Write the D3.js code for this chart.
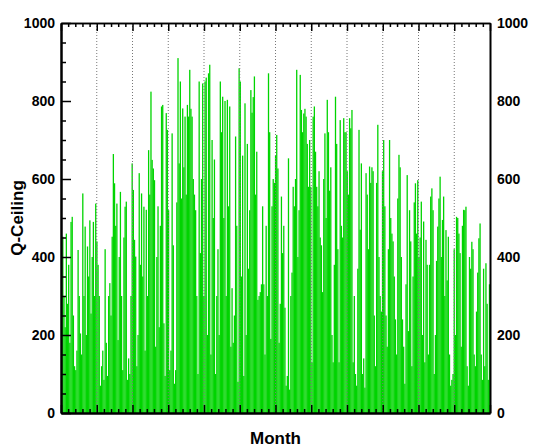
<!DOCTYPE html>
<html>
<head>
<meta charset="utf-8">
<script src="https://cdn.jsdelivr.net/npm/d3@7"></script>
<style>
  body { margin: 0; background: #fff; }
  text { font-family: "Liberation Sans", Arial, sans-serif; }
</style>
</head>
<body>
<svg id="chart" width="536" height="448"></svg>
<script>
// Daily Q-Ceiling values, two months per array
const janFeb = [260,452,300,220,460,280,380,180,490,503,250,120,110,160,418,300,204,150,563,300,478,200,427,350,494,255,400,490,300,537,440,380,300,70,120,160,85,420,180,95,300,333,250,452,664,589,480,537,187,400,567,300,110,450,529,542,85,140,100,300,640];
const marApr = [572,444,401,120,200,615,380,563,350,529,160,521,300,674,560,824,649,627,597,170,400,530,220,480,786,790,230,95,769,726,520,110,160,717,430,75,110,540,910,640,850,550,781,630,760,560,790,760,880,780,760,600,560,520,300,100,850,410,600,845,300];
const mayJun = [850,860,200,871,893,150,700,500,650,100,300,420,200,850,720,811,500,800,300,803,530,786,170,320,180,250,709,480,80,884,850,350,660,95,794,200,690,370,520,828,770,810,863,560,670,290,300,310,330,530,330,150,480,300,871,720,190,530,600,590,660];
const julAug = [713,627,180,280,555,410,480,270,70,95,653,60,300,360,580,530,600,880,400,520,867,777,720,768,780,760,690,580,700,580,130,760,786,670,580,530,620,450,430,310,600,717,500,803,720,570,630,200,130,380,811,690,420,130,751,480,450,756,720,720,620];
const sepOct = [560,756,730,777,130,300,100,70,370,726,470,640,100,140,65,615,560,420,632,590,630,620,250,120,590,739,400,300,260,620,700,530,250,170,420,700,500,460,440,350,240,150,550,662,630,400,240,170,75,330,610,210,520,440,120,350,540,589,460,597,400];
const novDec = [450,542,200,491,130,444,380,150,380,555,576,520,100,200,390,478,550,606,400,495,555,300,469,340,452,150,70,85,100,420,200,503,500,460,410,170,480,521,520,529,120,70,400,370,439,420,150,120,260,360,448,486,150,85,370,120,384,280,85,330];

const yTicks = [0, 200, 400, 600, 800, 1000];
const monthCount = 12;

const values = [].concat(janFeb, marApr, mayJun, julAug, sepOct, novDec);

const svg = d3.select("#chart");
const L = 61, R = 490, T = 23, B = 413;

const x = d3.scaleLinear().domain([0, values.length]).range([L, R]);
const xm = d3.scaleLinear().domain([0, monthCount]).range([L, R]);
const y = d3.scaleLinear().domain([0, 1000]).range([B, T]);

// bars
svg.append("g")
  .selectAll("rect")
  .data(values)
  .join("rect")
  .attr("x", (d, i) => x(i))
  .attr("width", (d, i) => x(i + 1) - x(i) + 0.12)
  .attr("y", d => y(d))
  .attr("height", d => y(0) - y(d))
  .attr("fill", "#00d400");

// dotted month gridlines
svg.append("g")
  .selectAll("line")
  .data(d3.range(1, monthCount))
  .join("line")
  .attr("x1", d => xm(d)).attr("x2", d => xm(d))
  .attr("y1", T).attr("y2", B)
  .attr("stroke", "#777")
  .attr("stroke-width", 1)
  .attr("stroke-dasharray", "1,2");

const monthMajor = d3.range(0, monthCount + 1);
const monthMinor = d3.range(0, monthCount * 5 + 1).map(d => d / 5).filter(d => d % 1 !== 0);
const yMinor = d3.range(0, 1001, 50).filter(d => d % 200 !== 0);

function styleAxis(g, w) {
  g.select(".domain").attr("stroke", "#000").attr("stroke-width", w);
  g.selectAll(".tick line").attr("stroke", "#000").attr("stroke-width", 1.5);
}

// bottom axis (inward ticks, no labels)
svg.append("g").attr("transform", `translate(0,${B})`)
  .call(d3.axisBottom(xm).tickValues(monthMinor).tickSizeInner(-4).tickSizeOuter(0).tickFormat(""))
  .call(g => styleAxis(g, 2));
svg.append("g").attr("transform", `translate(0,${B})`)
  .call(d3.axisBottom(xm).tickValues(monthMajor).tickSizeInner(-8).tickSizeOuter(0).tickFormat(""))
  .call(g => styleAxis(g, 2));

// top axis
svg.append("g").attr("transform", `translate(0,${T})`)
  .call(d3.axisTop(xm).tickValues(monthMinor).tickSizeInner(-4).tickSizeOuter(0).tickFormat(""))
  .call(g => styleAxis(g, 1.5));
svg.append("g").attr("transform", `translate(0,${T})`)
  .call(d3.axisTop(xm).tickValues(monthMajor).tickSizeInner(-8).tickSizeOuter(0).tickFormat(""))
  .call(g => styleAxis(g, 1.5));

// left axis
svg.append("g").attr("transform", `translate(${L},0)`)
  .call(d3.axisLeft(y).tickValues(yMinor).tickSizeInner(-5).tickSizeOuter(0).tickFormat(""))
  .call(g => styleAxis(g, 2));
svg.append("g").attr("transform", `translate(${L},0)`)
  .call(d3.axisLeft(y).tickValues(yTicks).tickSizeInner(-10).tickSizeOuter(0).tickPadding(6).tickFormat(d3.format("d")))
  .call(g => styleAxis(g, 2))
  .call(g => g.selectAll("text").attr("font-size", 14).attr("font-weight", "bold").attr("fill", "#000"));

// right axis (labels only)
svg.append("g").attr("transform", `translate(${R},0)`)
  .call(d3.axisRight(y).tickValues(yTicks).tickSizeInner(0).tickSizeOuter(0).tickPadding(7).tickFormat(d3.format("d")))
  .call(g => styleAxis(g, 2))
  .call(g => g.selectAll("text").attr("font-size", 14).attr("font-weight", "bold").attr("fill", "#000"));

// axis titles
svg.append("text")
  .attr("transform", `translate(23,${(T + B) / 2}) rotate(-90)`)
  .attr("text-anchor", "middle")
  .attr("font-size", 17).attr("font-weight", "bold")
  .text("Q-Ceiling");

svg.append("text")
  .attr("x", (L + R) / 2).attr("y", 444)
  .attr("text-anchor", "middle")
  .attr("font-size", 17).attr("font-weight", "bold")
  .text("Month");
</script>
</body>
</html>
